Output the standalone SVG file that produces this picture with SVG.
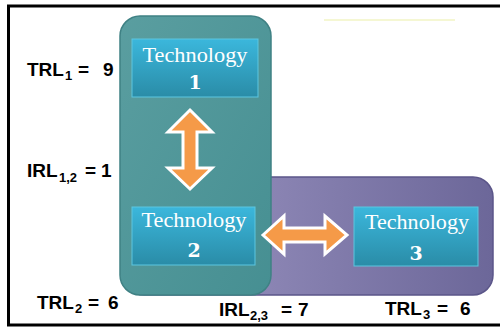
<svg xmlns="http://www.w3.org/2000/svg" width="500" height="328" viewBox="0 0 500 328">
<defs>
<linearGradient id="teal" x1="0" y1="0" x2="1" y2="1">
<stop offset="0" stop-color="#5a9ea0"/><stop offset="1" stop-color="#468f92"/>
</linearGradient>
<linearGradient id="purple" x1="0" y1="0" x2="1" y2="0">
<stop offset="0" stop-color="#9e97c4"/><stop offset="1" stop-color="#6c6799"/>
</linearGradient>
<linearGradient id="box" x1="0" y1="0" x2="0" y2="1">
<stop offset="0" stop-color="#3bb7dc"/><stop offset="1" stop-color="#2a8ca7"/>
</linearGradient>
<style>
.frame{fill:none;stroke:#000;stroke-width:3}
.box{fill:url(#box);stroke:#5cc6e0;stroke-width:1}
.tt{font-family:"Liberation Serif","Times New Roman",serif;fill:#fff;text-anchor:middle}
.t1{font-size:21px}
.t2{font-family:"DejaVu Serif",serif;font-size:19px;font-weight:bold}
.lbl{font-family:"Liberation Sans",Arial,sans-serif;font-weight:bold;font-size:19px;fill:#000}
.sub{font-size:13px}
.arrow{fill:#f59a48;stroke:#fff;stroke-width:3;stroke-linejoin:miter}
</style>
</defs>
<rect class="frame" x="8.5" y="6" width="500" height="319"/>
<line x1="324" y1="20" x2="455" y2="20" stroke="#f2f5c4" stroke-width="1.5"/>
<g id="region-purple">
<rect x="124" y="177" width="369" height="118" rx="20" fill="url(#purple)" stroke="#5b5689" stroke-width="1.5"/>
</g>
<g id="region-teal">
<rect x="120" y="16" width="151" height="279" rx="20" fill="url(#teal)" stroke="#3f8184" stroke-width="1.5"/>
</g>
<g id="tech1">
<rect class="box" x="132" y="39" width="126" height="58"/>
<text class="tt t1" x="195" y="62" textLength="105" lengthAdjust="spacingAndGlyphs">Technology</text>
<text class="tt t2" x="195" y="89">1</text>
</g>
<g id="tech2">
<rect class="box" x="132" y="207" width="123" height="58"/>
<text class="tt t1" x="194" y="227" textLength="105" lengthAdjust="spacingAndGlyphs">Technology</text>
<text class="tt t2" x="194" y="257">2</text>
</g>
<g id="tech3">
<rect class="box" x="354" y="207" width="124" height="59"/>
<text class="tt t1" x="417" y="229" textLength="104" lengthAdjust="spacingAndGlyphs">Technology</text>
<text class="tt t2" x="416" y="260">3</text>
</g>
<g id="connectors">
<path class="arrow" d="M190,110 L212,132 L197,132 L197,168 L212,168 L190,189 L168,168 L183,168 L183,132 L168,132 Z"/>
<path class="arrow" d="M263,235 L284,216 L284,228 L325,228 L325,216 L347,235 L325,254 L325,242 L284,242 L284,254 Z"/>
</g>
<g id="labels">
<text class="lbl" x="27" y="76">TRL<tspan class="sub" x="65" y="80">1</tspan><tspan x="78" y="76">=</tspan><tspan x="103" y="76">9</tspan></text>
<text class="lbl" x="27" y="177">IRL<tspan class="sub" x="59" y="182">1,2</tspan><tspan x="85" y="177">=</tspan><tspan x="101" y="177">1</tspan></text>
<text class="lbl" x="37" y="309">TRL<tspan class="sub" x="75" y="313">2</tspan><tspan x="88" y="309">=</tspan><tspan x="108" y="309">6</tspan></text>
<text class="lbl" x="219" y="316">IRL<tspan class="sub" x="250" y="320">2,3</tspan><tspan x="281" y="316">=</tspan><tspan x="298" y="316">7</tspan></text>
<text class="lbl" x="385" y="315">TRL<tspan class="sub" x="423" y="319">3</tspan><tspan x="437" y="315">=</tspan><tspan x="460" y="315">6</tspan></text>
</g>
</svg>
